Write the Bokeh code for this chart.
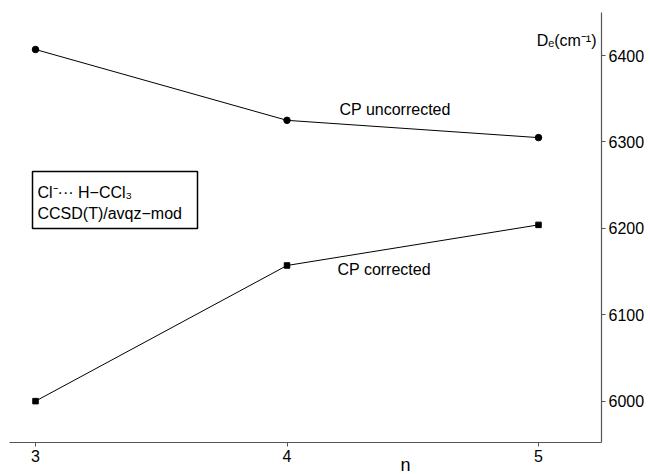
from bokeh.plotting import figure
from bokeh.models import Range1d, Label, BoxAnnotation, FixedTicker, LinearAxis
from bokeh.embed import file_html
from bokeh.resources import INLINE

# data
n_values = [3, 4, 5]
cp_uncorrected = [6407, 6325, 6305]
cp_corrected = [6000, 6157, 6204]
x_ticks = [3, 4, 5]
y_ticks = [6000, 6100, 6200, 6300, 6400]

FONT = "Liberation Sans"
W, H = 650, 474
X0, XS = 2.8608, 251.5      # data x at screen left, px per unit
Y0, YS = 6463.7, 0.864      # data y at screen top, px per unit

def X(px):
    return X0 + px / XS

def Y(py):
    return Y0 - py / YS

p = figure(width=W, height=H, min_border=0,
           x_range=Range1d(X(0), X(W)), y_range=Range1d(Y(H), Y(0)),
           x_axis_location=None, y_axis_location=None,
           output_backend="svg", toolbar_location=None,
           background_fill_color="white", border_fill_color="white")
p.outline_line_color = None
p.grid.visible = False

xaxis = LinearAxis(fixed_location=Y(442), bounds=(X(9), X(601)),
                   ticker=FixedTicker(ticks=x_ticks))
yaxis = LinearAxis(fixed_location=X(601), bounds=(Y(442), Y(12)),
                   ticker=FixedTicker(ticks=y_ticks))
for ax in (xaxis, yaxis):
    ax.axis_line_color = "#555555"
    ax.axis_line_width = 1.2
    ax.major_tick_line_color = "#555555"
    ax.major_tick_in = 0
    ax.major_tick_out = 4
    ax.minor_tick_line_color = None
    ax.major_label_text_font = FONT
    ax.major_label_text_font_size = "16px"
    ax.major_label_text_color = "black"
    ax.major_label_standoff = 3
p.add_layout(xaxis, "below")
p.add_layout(yaxis, "right")

p.line(n_values, cp_uncorrected, line_color="black", line_width=1)
p.scatter(n_values, cp_uncorrected, marker="circle", size=6.5,
          fill_color="black", line_color="black")
p.line(n_values, cp_corrected, line_color="black", line_width=1)
p.scatter(n_values, cp_corrected, marker="square", size=5.5,
          fill_color="black", line_color="black")

def lab(px, py, text, align="left", size="16px"):
    p.add_layout(Label(x=X(px), y=Y(py), text=text, text_font=FONT,
                       text_font_size=size, text_align=align,
                       text_baseline="middle", text_color="black"))

lab(339, 109, "CP uncorrected")
lab(337, 269, "CP corrected")
lab(596, 40, "Dₑ(cm⁻¹)", align="right")
lab(37, 192, "Cl⁻··· H−CCl₃")
lab(37, 213, "CCSD(T)/avqz−mod")
lab(405, 464, "n", align="center", size="18px")

p.add_layout(BoxAnnotation(left=X(32), right=X(197), bottom=Y(228), top=Y(171),
                           fill_alpha=0, line_color="black", line_alpha=1.0,
                           line_width=1.5))

open("out.html", "w").write(file_html(p, INLINE))
